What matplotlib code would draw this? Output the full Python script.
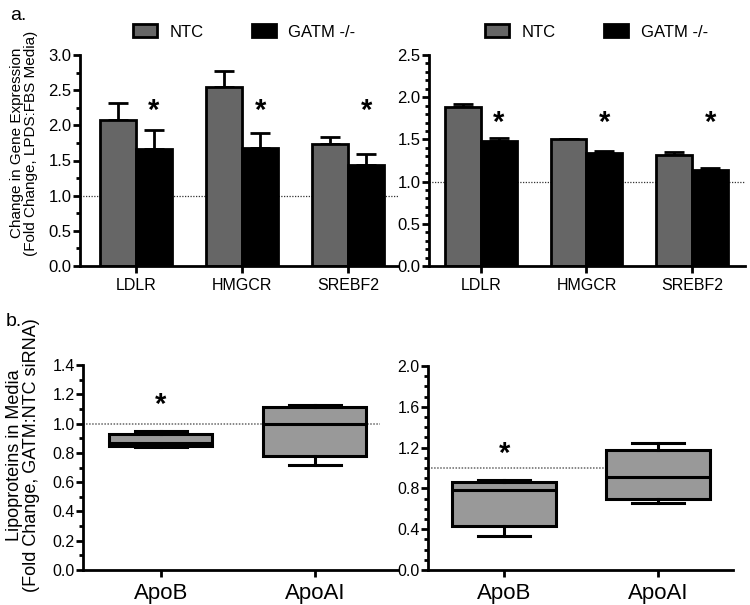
import matplotlib
matplotlib.use("Agg")
import matplotlib.pyplot as plt
import numpy as np
from matplotlib.ticker import MultipleLocator, FormatStrFormatter

plt.rcParams['font.family'] = ['Liberation Sans', 'DejaVu Sans']

# ---------------- data ----------------
genes = ["LDLR", "HMGCR", "SREBF2"]
series_names = ["NTC", "GATM -/-"]

# panel a, left
a1_ntc = [2.07, 2.54, 1.74]
a1_ntc_err = [0.25, 0.23, 0.10]
a1_gatm = [1.67, 1.68, 1.44]
a1_gatm_err = [0.27, 0.21, 0.15]
a1_star_y = 2.20

# panel a, right
a2_ntc = [1.88, 1.50, 1.32]
a2_ntc_err = [0.04, 0.01, 0.03]
a2_gatm = [1.48, 1.34, 1.14]
a2_gatm_err = [0.04, 0.02, 0.02]
a2_star_y = 1.70

# panel b
lipo = ["ApoB", "ApoAI"]
b1_whislo = [0.84, 0.72]
b1_q1 = [0.85, 0.78]
b1_med = [0.87, 1.00]
b1_q3 = [0.93, 1.11]
b1_whishi = [0.95, 1.13]
b1_star_y = 1.13

b2_whislo = [0.33, 0.66]
b2_q1 = [0.43, 0.70]
b2_med = [0.78, 0.91]
b2_q3 = [0.86, 1.18]
b2_whishi = [0.88, 1.25]
b2_star_y = 1.14

# ---------------- figure ----------------
W, H = 750, 605
fig = plt.figure(figsize=(W / 100, H / 100), dpi=100)


def px_axes(x0, x1, ytop, ybot):
    return fig.add_axes([x0 / W, 1 - ybot / H, (x1 - x0) / W, (ybot - ytop) / H])


NTC_COLOR = "#666666"
BOX_COLOR = "#999999"
LW = 2.0


def style_axes(ax, major, minor, ymax, label_size=12):
    for s in ["top", "right"]:
        ax.spines[s].set_visible(False)
    for s in ["left", "bottom"]:
        ax.spines[s].set_linewidth(LW)
    ax.set_ylim(0, ymax)
    ax.yaxis.set_major_locator(MultipleLocator(major))
    ax.yaxis.set_minor_locator(MultipleLocator(minor))
    ax.yaxis.set_major_formatter(FormatStrFormatter("%.1f"))
    ax.tick_params(axis="y", which="major", length=5, width=LW, labelsize=label_size, pad=1)
    ax.tick_params(axis="y", which="minor", length=3, width=LW)
    ax.tick_params(axis="x", which="major", length=5, width=LW, pad=4)


def bar_panel(ax, ntc, ntc_err, gatm, gatm_err, star_y, major, minor, ymax, xlim, leg_x):
    x = np.arange(len(genes))
    w = 0.34
    ax.axhline(1.0, color="#333333", lw=0.9, ls=(0, (1, 1.2)), zorder=0)
    ax.errorbar(x - w / 2, ntc, yerr=[np.zeros(len(x)), ntc_err], fmt="none",
                ecolor="black", elinewidth=LW, capsize=7, capthick=LW, zorder=1)
    ax.errorbar(x + w / 2, gatm, yerr=[np.zeros(len(x)), gatm_err], fmt="none",
                ecolor="black", elinewidth=LW, capsize=7, capthick=LW, zorder=1)
    b1 = ax.bar(x - w / 2, ntc, w, color=NTC_COLOR, edgecolor="black", linewidth=LW, zorder=2)
    b2 = ax.bar(x + w / 2, gatm, w, color="black", edgecolor="black", linewidth=LW, zorder=2)
    for xi in x:
        ax.text(xi + w / 2, star_y, "*", ha="center", va="center", fontsize=21, fontweight="bold")
    ax.set_xticks(x)
    ax.set_xticklabels(genes, fontsize=11.5)
    ax.set_xlim(*xlim)
    style_axes(ax, major, minor, ymax, 12)
    ax.legend([b1, b2], series_names, loc="center", bbox_to_anchor=(leg_x, 1.109), ncol=2,
              frameon=False, fontsize=12, handlelength=1.45, handleheight=0.8,
              handletextpad=0.75, columnspacing=2.9, borderaxespad=0)


def box_panel(ax, whislo, q1, med, q3, whishi, star_y, major, minor, ymax, xlim, line_end):
    stats = []
    for i, name in enumerate(lipo):
        stats.append(dict(label=name, whislo=whislo[i], q1=q1[i], med=med[i],
                          q3=q3[i], whishi=whishi[i], fliers=[]))
    ax.hlines(1.0, xlim[0], line_end, colors="#666666", lw=1.1, linestyles=(0, (1, 1)), zorder=0)
    ax.bxp(stats, positions=range(len(lipo)), widths=0.67, capwidths=0.34, patch_artist=True,
           showfliers=False,
           boxprops=dict(facecolor=BOX_COLOR, edgecolor="black", linewidth=2.2),
           medianprops=dict(color="black", linewidth=2.2),
           whiskerprops=dict(color="black", linewidth=2.2),
           capprops=dict(color="black", linewidth=2.2), zorder=2)
    ax.text(0, star_y, "*", ha="center", va="center", fontsize=21, fontweight="bold")
    ax.set_xticks(range(len(lipo)))
    ax.set_xticklabels(lipo, fontsize=16)
    ax.set_xlim(*xlim)
    style_axes(ax, major, minor, ymax, 11.5)


ax1 = px_axes(80, 398, 55, 266)
bar_panel(ax1, a1_ntc, a1_ntc_err, a1_gatm, a1_gatm_err, a1_star_y,
          0.5, 0.25, 3.0, (-0.528, 2.47), 0.516)

ax2 = px_axes(429, 745, 55, 266)
bar_panel(ax2, a2_ntc, a2_ntc_err, a2_gatm, a2_gatm_err, a2_star_y,
          0.5, 0.1, 2.5, (-0.49, 2.50), 0.53)

ax3 = px_axes(83, 398, 365, 570)
box_panel(ax3, b1_whislo, b1_q1, b1_med, b1_q3, b1_whishi, b1_star_y,
          0.2, 0.1, 1.4, (-0.506, 1.54), 1.42)

ax4 = px_axes(428, 733, 366, 570)
box_panel(ax4, b2_whislo, b2_q1, b2_med, b2_q3, b2_whishi, b2_star_y,
          0.4, 0.1, 2.0, (-0.494, 1.487), 1.0)

# panel letters
fig.text(10 / W, 1 - 16 / H, "a.", fontsize=14, ha="left", va="center")
fig.text(6 / W, 1 - 322 / H, "b.", fontsize=14, ha="left", va="center")

# y labels
fig.text(17 / W, 1 - 143 / H, "Change in Gene Expression", rotation=90,
         ha="center", va="center", fontsize=11)
fig.text(31 / W, 1 - 143 / H, "(Fold Change, LPDS:FBS Media)", rotation=90,
         ha="center", va="center", fontsize=11)
fig.text(15 / W, 1 - 455 / H, "Lipoproteins in Media", rotation=90,
         ha="center", va="center", fontsize=13)
fig.text(31.5 / W, 1 - 455 / H, "(Fold Change, GATM:NTC siRNA)", rotation=90,
         ha="center", va="center", fontsize=13)

fig.savefig("out.png", dpi=100)
